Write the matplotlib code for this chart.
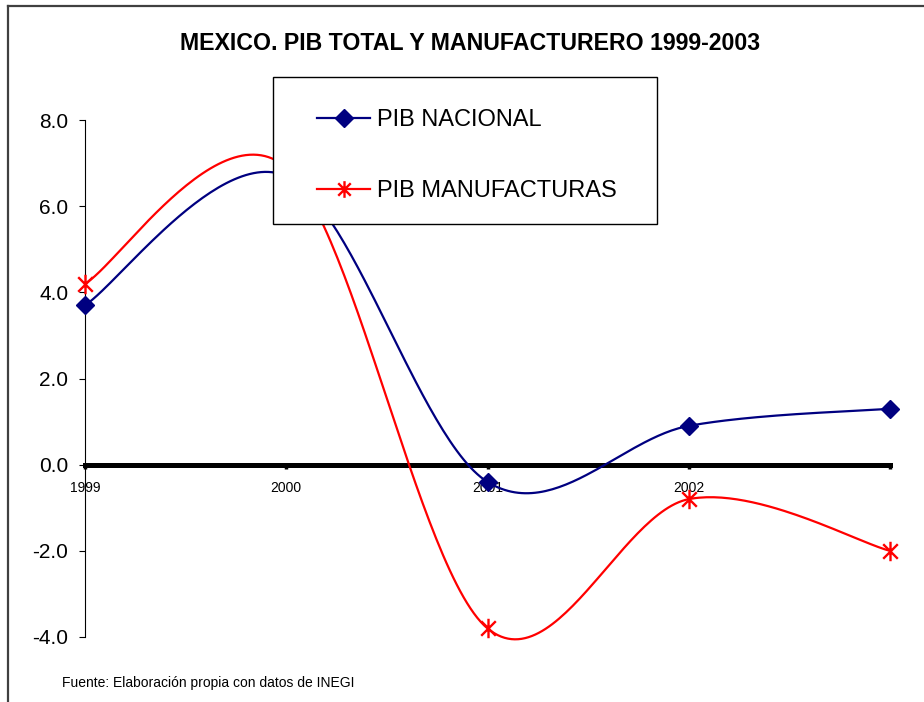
import numpy as np
import matplotlib
matplotlib.use("Agg")
import matplotlib.pyplot as plt
from matplotlib.path import Path
from matplotlib.lines import Line2D
from matplotlib.patches import Rectangle

plt.rcParams['font.family'] = ['Liberation Sans', 'DejaVu Sans']
plt.rcParams['axes.unicode_minus'] = False

years = [1999, 2000, 2001, 2002, 2003]
pib_nacional = [3.7, 6.7, -0.4, 0.9, 1.3]
pib_manufacturas = [4.2, 6.9, -3.8, -0.8, -2.0]
x_tick_labels = ['1999', '2000', '2001', '2002', '']
y_ticks = [-4.0, -2.0, 0.0, 2.0, 4.0, 6.0, 8.0]

title = "MEXICO. PIB TOTAL Y MANUFACTURERO 1999-2003"
source = "Fuente: Elaboración propia con datos de INEGI"
label_nac = "PIB NACIONAL"
label_man = "PIB MANUFACTURAS"


def smooth(xs, ys, n=60):
    """Excel-like smoothed line: Catmull-Rom style cubic Bezier segments."""
    xs = np.asarray(xs, float)
    ys = np.asarray(ys, float)
    P = np.column_stack([xs, ys])
    out = []
    for i in range(len(P) - 1):
        p0 = P[i - 1] if i > 0 else P[i]
        p1 = P[i]
        p2 = P[i + 1]
        p3 = P[i + 2] if i + 2 < len(P) else P[i + 1]
        c1 = p1 + (p2 - p0) / 6.0
        c2 = p2 - (p3 - p1) / 6.0
        t = np.linspace(0, 1, n)[:, None]
        seg = ((1 - t) ** 3) * p1 + 3 * ((1 - t) ** 2) * t * c1 + 3 * (1 - t) * t ** 2 * c2 + t ** 3 * p2
        out.append(seg if i == 0 else seg[1:])
    out = np.vstack(out)
    return out[:, 0], out[:, 1]


# asterisk marker: vertical line plus X
star_path = Path(
    [(0, -1), (0, 1), (-0.75, -0.75), (0.75, 0.75), (-0.75, 0.75), (0.75, -0.75)],
    [Path.MOVETO, Path.LINETO, Path.MOVETO, Path.LINETO, Path.MOVETO, Path.LINETO],
)

W, H = 924, 702
fig = plt.figure(figsize=(W / 100, H / 100), dpi=100)
fig.patch.set_facecolor('white')

ax = fig.add_axes([85 / W, 1 - 637 / H, (890 - 85) / W, (637 - 120) / H])
ax.set_xlim(1999, 2003)
ax.set_ylim(-4, 8)

navy = '#000080'
red = '#FF0000'

sx, sy = smooth(years, pib_nacional)
ax.plot(sx, sy, color=navy, lw=1.6, zorder=4, clip_on=False)
ax.plot(years, pib_nacional, ls='none', marker='D', ms=9.5, color=navy,
        mec=navy, zorder=5, clip_on=False)

sx, sy = smooth(years, pib_manufacturas)
ax.plot(sx, sy, color=red, lw=1.6, zorder=4, clip_on=False)
ax.plot(years, pib_manufacturas, ls='none', marker=star_path, ms=14, mew=1.7,
        color=red, mec=red, zorder=5, clip_on=False)

# axes styling
for s in ['top', 'right']:
    ax.spines[s].set_visible(False)
ax.spines['left'].set_linewidth(0.8)
ax.spines['left'].set_color('black')
ax.spines['bottom'].set_position(('data', 0))
ax.spines['bottom'].set_linewidth(3.6)
ax.spines['bottom'].set_color('black')
ax.spines['bottom'].set_zorder(3)

ax.set_yticks(y_ticks)
ax.set_yticklabels([f"{v:.1f}" for v in y_ticks])
ax.tick_params(axis='y', direction='out', length=4.5, width=0.8, pad=7.5, labelsize=15)

ax.set_xticks(years)
ax.set_xticklabels(x_tick_labels)
ax.tick_params(axis='x', direction='out', length=3, width=2.5, pad=9, labelsize=10)

# legend box
fig.patches.append(Rectangle((273 / W, 1 - 224 / H), (657 - 273) / W, (224 - 77) / H,
                             transform=fig.transFigure, facecolor='white',
                             edgecolor='black', lw=1.0, zorder=3))
handles = [
    Line2D([], [], color=navy, lw=1.6, marker='D', ms=9, mec=navy),
    Line2D([], [], color=red, lw=1.6, marker=star_path, ms=12, mew=1.7, mec=red),
]
fig.legend(handles, [label_nac, label_man], loc='upper left',
           bbox_to_anchor=(317 / W, 1 - 109 / H), bbox_transform=fig.transFigure,
           frameon=False, fontsize=17, borderpad=0, borderaxespad=0,
           handlelength=2.25, handletextpad=0.3, labelspacing=2.07)

fig.text(470 / W, 1 - 43 / H, title, ha='center', va='center',
         fontsize=16.7, fontweight='bold')
fig.text(62 / W, 1 - 683 / H, source, ha='left', va='center', fontsize=10)

# outer chart frame (left and top edges visible)
fig.lines.append(Line2D([8 / W, 8 / W], [0, 1 - 6 / H], transform=fig.transFigure,
                        color='#404040', lw=1.6))
fig.lines.append(Line2D([8 / W, 1], [1 - 6 / H, 1 - 6 / H], transform=fig.transFigure,
                        color='#404040', lw=1.6))

fig.savefig('out.png', dpi=100)
